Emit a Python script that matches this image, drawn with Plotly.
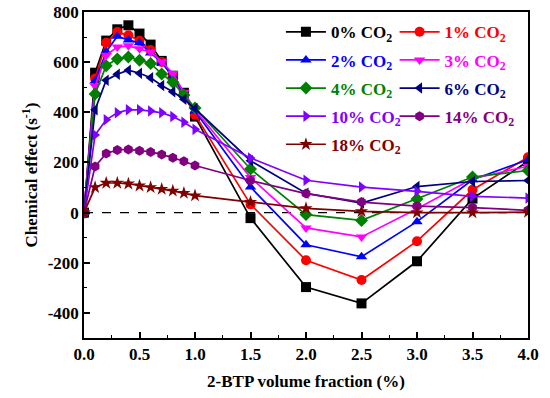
import plotly.graph_objects as go

x_vals = [0, 0.1, 0.2, 0.3, 0.4, 0.5, 0.6, 0.7, 0.8, 0.9, 1.0, 1.5, 2.0, 2.5, 3.0, 3.5, 4.0]

co2_0 = [0, 558, 686, 731, 747, 714, 670, 605, 546, 478, 383, -22, -297, -362, -194, 56, 205]
co2_1 = [0, 535, 677, 720, 707, 685, 648, 601, 541, 470, 390, 33, -190, -269, -114, 91, 221]
co2_2 = [0, 525, 641, 703, 688, 677, 637, 598, 545, 475, 405, 102, -128, -176, -36, 131, 211]
co2_3 = [0, 505, 628, 660, 665, 653, 640, 602, 555, 480, 410, 140, -61, -97, 15, 135, 185]
co2_4 = [0, 473, 586, 613, 621, 608, 595, 553, 520, 469, 417, 174, -8, -31, 54, 142, 168]
co2_6 = [0, 410, 528, 552, 568, 556, 538, 507, 482, 452, 415, 207, 77, 38, 104, 124, 128]
co2_10 = [0, 310, 370, 398, 410, 410, 405, 398, 383, 360, 332, 218, 129, 102, 85, 65, 58]
co2_14 = [0, 184, 236, 250, 252, 247, 242, 232, 219, 205, 188, 128, 76, 42, 26, 20, 9]
co2_18 = [0, 101, 118, 118, 115, 107, 101, 94, 87, 78, 68, 42, 17, 5, 0, 0, 2]

series = [
    ("0%", co2_0, "#000000", "square", "legend"),
    ("1%", co2_1, "#FF0000", "circle", "legend2"),
    ("2%", co2_2, "#0000FF", "triangle-up", "legend"),
    ("3%", co2_3, "#FF00FF", "triangle-down", "legend2"),
    ("4%", co2_4, "#008000", "diamond", "legend"),
    ("6%", co2_6, "#000080", "triangle-left", "legend2"),
    ("10%", co2_10, "#8000FF", "triangle-right", "legend"),
    ("14%", co2_14, "#800080", "hexagon", "legend2"),
    ("18%", co2_18, "#800000", "star", "legend"),
]

font_family = "Liberation Serif, Times New Roman, serif"

fig = go.Figure()
for label, vals, color, sym, leg in series:
    fig.add_trace(go.Scatter(
        x=x_vals, y=vals, mode="lines+markers",
        name=f'<span style="color:{color}"><b>{label} CO<sub>2</sub></b></span>',
        line=dict(color=color, width=1.7),
        marker=dict(symbol=sym, size=10, color=color),
        legend=leg, legendgroup=label,
    ))

fig.add_shape(type="line", xref="paper", yref="y", x0=0, x1=1, y0=0, y1=0,
              line=dict(color="black", width=1.3, dash="dash"), layer="below")

leg_common = dict(
    bgcolor="rgba(0,0,0,0)", borderwidth=0,
    font=dict(family=font_family, size=17, color="black"),
    itemwidth=40, tracegroupgap=3, xanchor="left", yanchor="top",
)

fig.update_layout(
    width=550, height=398,
    margin=dict(l=84, r=22, t=12, b=60, autoexpand=False),
    plot_bgcolor="white", paper_bgcolor="white",
    font=dict(family=font_family, size=17, color="black"),
    showlegend=True,
    legend=dict(x=0.4435, y=0.993, **leg_common),
    legend2=dict(x=0.6995, y=0.993, **leg_common),
    xaxis=dict(
        range=[0, 4], tickmode="array", automargin=False,
        tickvals=[0, 0.5, 1.0, 1.5, 2.0, 2.5, 3.0, 3.5, 4.0],
        ticktext=["<b>0.0</b>", "<b>0.5</b>", "<b>1.0</b>", "<b>1.5</b>", "<b>2.0</b>",
                  "<b>2.5</b>", "<b>3.0</b>", "<b>3.5</b>", "<b>4.0</b>"],
        ticks="inside", ticklen=6, tickwidth=1.5, tickcolor="black",
        minor=dict(ticks="inside", ticklen=3, tickwidth=1.2, dtick=0.25, tick0=0, tickcolor="black"),
        showline=True, linecolor="black", linewidth=1.5, mirror=True,
        showgrid=False, zeroline=False,
        title=dict(text="<b>2-BTP volume fraction (%)</b>", font=dict(size=17), standoff=12),
        tickfont=dict(size=17),
    ),
    yaxis=dict(
        range=[-500, 800], tickmode="array", automargin=False,
        tickvals=[-400, -200, 0, 200, 400, 600, 800],
        ticktext=["<b>-400</b>", "<b>-200</b>", "<b>0</b>", "<b>200</b>", "<b>400</b>",
                  "<b>600</b>", "<b>800</b>"],
        ticks="inside", ticklen=6, tickwidth=1.5, tickcolor="black",
        minor=dict(ticks="inside", ticklen=3, tickwidth=1.2, dtick=100, tick0=0, tickcolor="black"),
        showline=True, linecolor="black", linewidth=1.5, mirror=True,
        showgrid=False, zeroline=False,
        title=dict(text="<b>Chemical effect (s<sup>-1</sup>)</b>", font=dict(size=17), standoff=6),
        tickfont=dict(size=17),
    ),
)

fig.write_html("out.html", config={"displayModeBar": False},
               post_script="document.body.style.margin='0';")
